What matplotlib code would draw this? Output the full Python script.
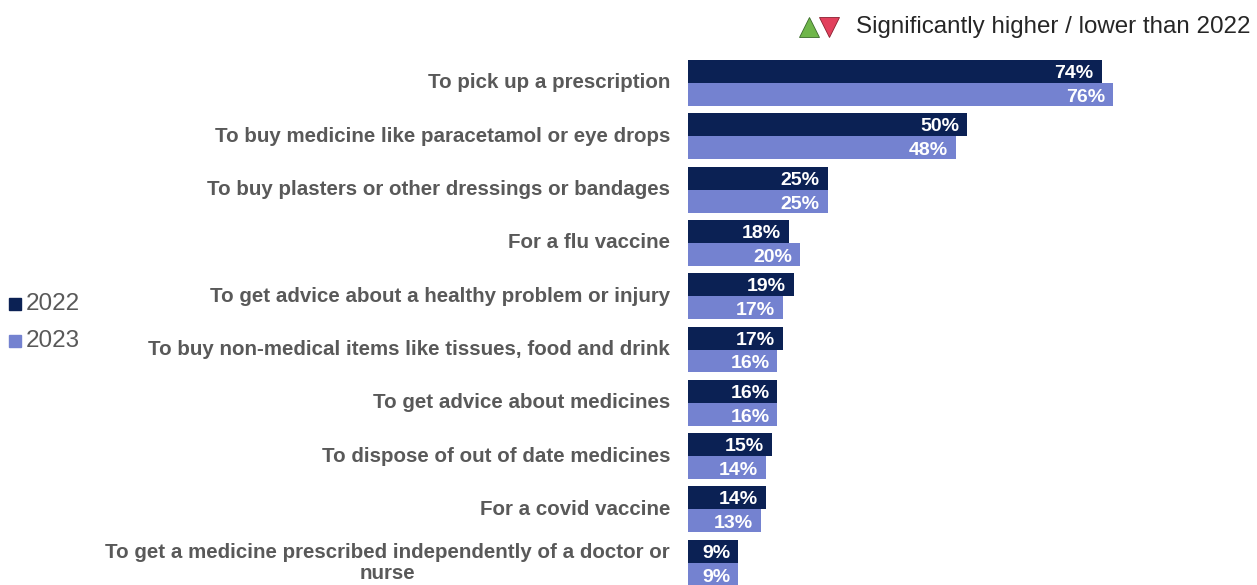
import matplotlib.pyplot as plt
from matplotlib.lines import Line2D

plt.rcParams['font.family'] = ['Liberation Sans', 'DejaVu Sans']

# Reasons for visiting a pharmacy, share of respondents (%)
reasons = [
    "To pick up a prescription",
    "To buy medicine like paracetamol or eye drops",
    "To buy plasters or other dressings or bandages",
    "For a flu vaccine",
    "To get advice about a healthy problem or injury",
    "To buy non-medical items like tissues, food and drink",
    "To get advice about medicines",
    "To dispose of out of date medicines",
    "For a covid vaccine",
    "To get a medicine prescribed independently of a doctor or\nnurse",
]
pct_2022 = [74, 50, 25, 18, 19, 17, 16, 15, 14, 9]
pct_2023 = [76, 48, 25, 20, 17, 16, 16, 14, 13, 9]

dark = '#0B2154'
light = '#7482D0'
grey = '#595959'

fig = plt.figure(figsize=(12.57, 5.85), dpi=100)
ax = fig.add_axes([688 / 1257, 0, 1 - 688 / 1257, 1])

h = 0.43
ys = list(range(len(reasons)))
ax.barh([y - h / 2 for y in ys], pct_2022, height=h, color=dark)
ax.barh([y + h / 2 for y in ys], pct_2023, height=h, color=light)

ax.set_xlim(0, 101.8)
ax.set_ylim(9.418, -1.557)
ax.axis('off')

for y, v in zip(ys, pct_2022):
    ax.annotate(f"{v}%", (v, y - h / 2), xytext=(-8, -2), textcoords='offset pixels',
                color='white', fontweight='bold', fontsize=14, ha='right', va='center')
for y, v in zip(ys, pct_2023):
    ax.annotate(f"{v}%", (v, y + h / 2), xytext=(-8, -3), textcoords='offset pixels',
                color='white', fontweight='bold', fontsize=14, ha='right', va='center')

# category labels to the left of the bars
for y, lab in zip(ys, reasons):
    ax.text(-3.2, y, lab, color=grey, fontweight='bold', fontsize=14.8,
            ha='right', va='center', multialignment='center', linespacing=1.12)

# year legend on the far left
for yy, col, yr in [(304, dark, '2022'), (341, light, '2023')]:
    fig.add_artist(Line2D([15 / 1257], [1 - yy / 585], marker='s', markersize=9,
                          color=col, transform=fig.transFigure))
    fig.text(26 / 1257, 1 - yy / 585, yr, color=grey, fontsize=17.5,
             ha='left', va='center')

# significance key at top right
fig.add_artist(Line2D([809 / 1257], [1 - 27 / 585], marker='^', markersize=14,
                      color='#6FB64A', markeredgecolor='#3a6a2a', markeredgewidth=0.6,
                      transform=fig.transFigure))
fig.add_artist(Line2D([829 / 1257], [1 - 27 / 585], marker='v', markersize=14,
                      color='#E2405C', markeredgecolor='#8a2030', markeredgewidth=0.6,
                      transform=fig.transFigure))
fig.text(1251 / 1257, 1 - 27 / 585, "Significantly higher / lower than 2022",
         color='#262626', fontsize=17.4, ha='right', va='center')

fig.savefig('out.png', dpi=100, facecolor='white')
